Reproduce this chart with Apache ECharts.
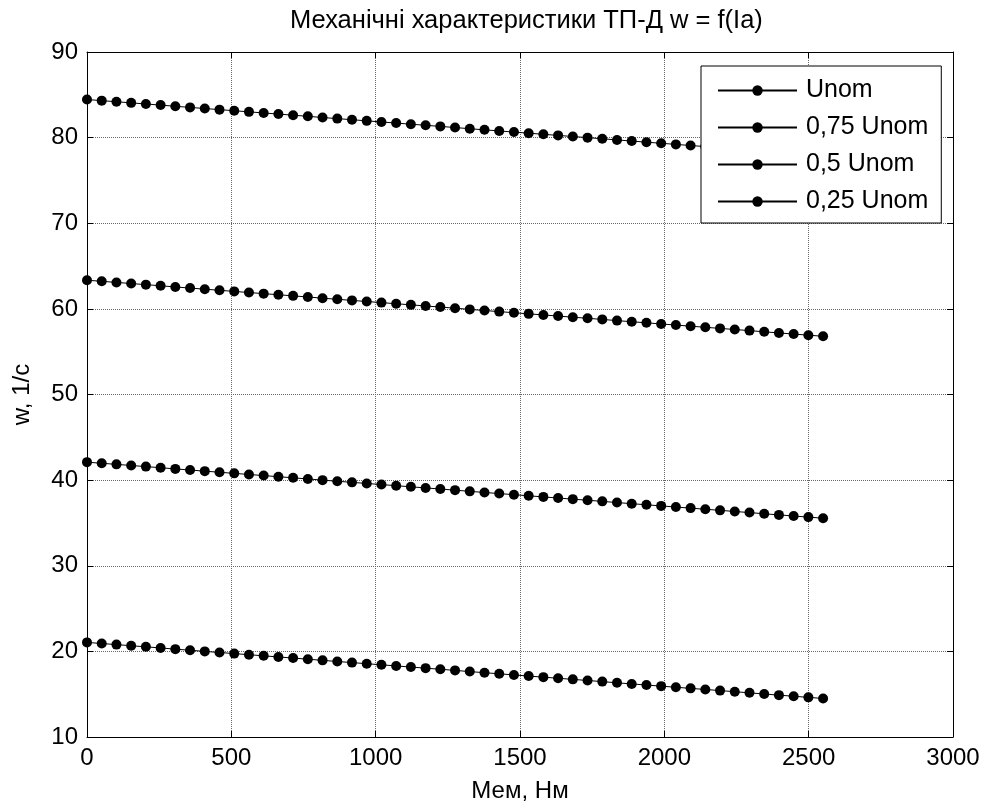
<!DOCTYPE html>
<html>
<head>
<meta charset="utf-8">
<script src="https://cdn.jsdelivr.net/npm/echarts@6/dist/echarts.min.js"></script>
<style>
html,body{margin:0;padding:0;background:#fff;}
#chart{width:991px;height:810px;}
</style>
</head>
<body>
<div id="chart"></div>
<script>
var torque = [0,51,102,153,204,255,306,357,408,459,510,561,612,663,714,765,816,867,918,969,1020,1071,1122,1173,1224,1275,1326,1377,1428,1479,1530,1581,1632,1683,1734,1785,1836,1887,1938,1989,2040,2091,2142,2193,2244,2295,2346,2397,2448,2499,2550];

var wUnom = [84.45,84.32,84.19,84.06,83.93,83.80,83.66,83.53,83.40,83.27,
83.14,83.01,82.88,82.75,82.62,82.49,82.35,82.22,82.09,81.96,
81.83,81.70,81.57,81.44,81.31,81.18,81.04,80.91,80.78,80.65,
80.52,80.39,80.26,80.13,80.00,79.87,79.73,79.60,79.47,79.34,
79.21,79.08,78.95,78.82,78.69,78.56,78.42,78.29,78.16,78.03,
77.90];

var w075 = [63.35,63.22,63.09,62.96,62.83,62.70,62.56,62.43,62.30,62.17,
62.04,61.91,61.78,61.65,61.52,61.39,61.25,61.12,60.99,60.86,
60.73,60.60,60.47,60.34,60.21,60.08,59.94,59.81,59.68,59.55,
59.42,59.29,59.16,59.03,58.90,58.77,58.63,58.50,58.37,58.24,
58.11,57.98,57.85,57.72,57.59,57.46,57.32,57.19,57.06,56.93,
56.80];

var w05 = [42.10,41.97,41.84,41.71,41.58,41.45,41.31,41.18,41.05,40.92,
40.79,40.66,40.53,40.40,40.27,40.14,40.00,39.87,39.74,39.61,
39.48,39.35,39.22,39.09,38.96,38.83,38.69,38.56,38.43,38.30,
38.17,38.04,37.91,37.78,37.65,37.52,37.38,37.25,37.12,36.99,
36.86,36.73,36.60,36.47,36.34,36.21,36.07,35.94,35.81,35.68,
35.55];

var w025 = [21.05,20.92,20.79,20.66,20.53,20.40,20.26,20.13,20.00,19.87,
19.74,19.61,19.48,19.35,19.22,19.09,18.95,18.82,18.69,18.56,
18.43,18.30,18.17,18.04,17.91,17.78,17.64,17.51,17.38,17.25,
17.12,16.99,16.86,16.73,16.60,16.47,16.33,16.20,16.07,15.94,
15.81,15.68,15.55,15.42,15.29,15.16,15.02,14.89,14.76,14.63,
14.50];

var seriesNames = ['Unom','0,75 Unom','0,5 Unom','0,25 Unom'];
var seriesValues = [wUnom, w075, w05, w025];

var titleText = 'Механічні характеристики ТП-Д w = f(Ia)';
var xName = 'Мем, Нм';
var yName = 'w, 1/с';

var FONT = '"Liberation Sans", Arial, Helvetica, sans-serif';

function pairs(xs, ys){
  var out = [];
  for (var i = 0; i < xs.length; i++) out.push([xs[i], ys[i]]);
  return out;
}

var chart = echarts.init(document.getElementById('chart'), null, {renderer:'canvas'});

var axisCommon = {
  axisLine:{show:true, onZero:false, lineStyle:{color:'#000', width:1}},
  axisTick:{show:true, inside:true, length:6, lineStyle:{color:'#000', width:1}}
};

var plain = function(v){ return String(v); };

var option = {
  backgroundColor:'#fff',
  animation:false,
  textStyle:{fontFamily:FONT},
  title:{
    text:titleText, left:285, top:3,
    textStyle:{fontFamily:FONT, fontSize:25.5, fontWeight:'normal', color:'#000'}
  },
  grid:{left:87, right:38, top:52, bottom:73, containLabel:false},
  legend:{
    orient:'vertical',
    left:701, top:66,
    data:seriesNames,
    backgroundColor:'#fff',
    borderColor:'#000', borderWidth:1,
    padding:[12,13,9,16],
    itemWidth:79, itemHeight:13, itemGap:12,
    textStyle:{fontFamily:FONT, fontSize:25, color:'#000', lineHeight:25, padding:[0,0,0,4]},
    selectedMode:false
  },
  xAxis:[
    Object.assign({
      type:'value', position:'bottom', min:0, max:3000, interval:500,
      name:xName, nameLocation:'middle', nameGap:42,
      nameTextStyle:{fontFamily:FONT, fontSize:24, color:'#000'},
      axisLabel:{fontFamily:FONT, fontSize:24, color:'#000', margin:9, formatter:plain},
      splitLine:{show:true, lineStyle:{color:'#666', type:'dotted', width:1}}
    }, axisCommon),
    Object.assign({
      type:'value', position:'top', min:0, max:3000, interval:500,
      axisLabel:{show:false}, splitLine:{show:false}
    }, axisCommon)
  ],
  yAxis:[
    Object.assign({
      type:'value', position:'left', min:10, max:90, interval:10,
      name:yName, nameLocation:'middle', nameGap:53,
      nameTextStyle:{fontFamily:FONT, fontSize:24, color:'#000'},
      axisLabel:{fontFamily:FONT, fontSize:24, color:'#000', margin:9, formatter:plain},
      splitLine:{show:true, lineStyle:{color:'#666', type:'dotted', width:1}}
    }, axisCommon),
    Object.assign({
      type:'value', position:'right', min:10, max:90, interval:10,
      axisLabel:{show:false}, splitLine:{show:false}
    }, axisCommon)
  ],
  series: seriesNames.map(function(name, k){
    return {
      name:name, type:'line',
      xAxisIndex:0, yAxisIndex:0,
      data:pairs(torque, seriesValues[k]),
      symbol:'circle', symbolSize:10, showSymbol:true,
      lineStyle:{color:'#000', width:1},
      itemStyle:{color:'#000', borderWidth:0},
      emphasis:{disabled:true}
    };
  })
};

chart.setOption(option);
</script>
</body>
</html>
